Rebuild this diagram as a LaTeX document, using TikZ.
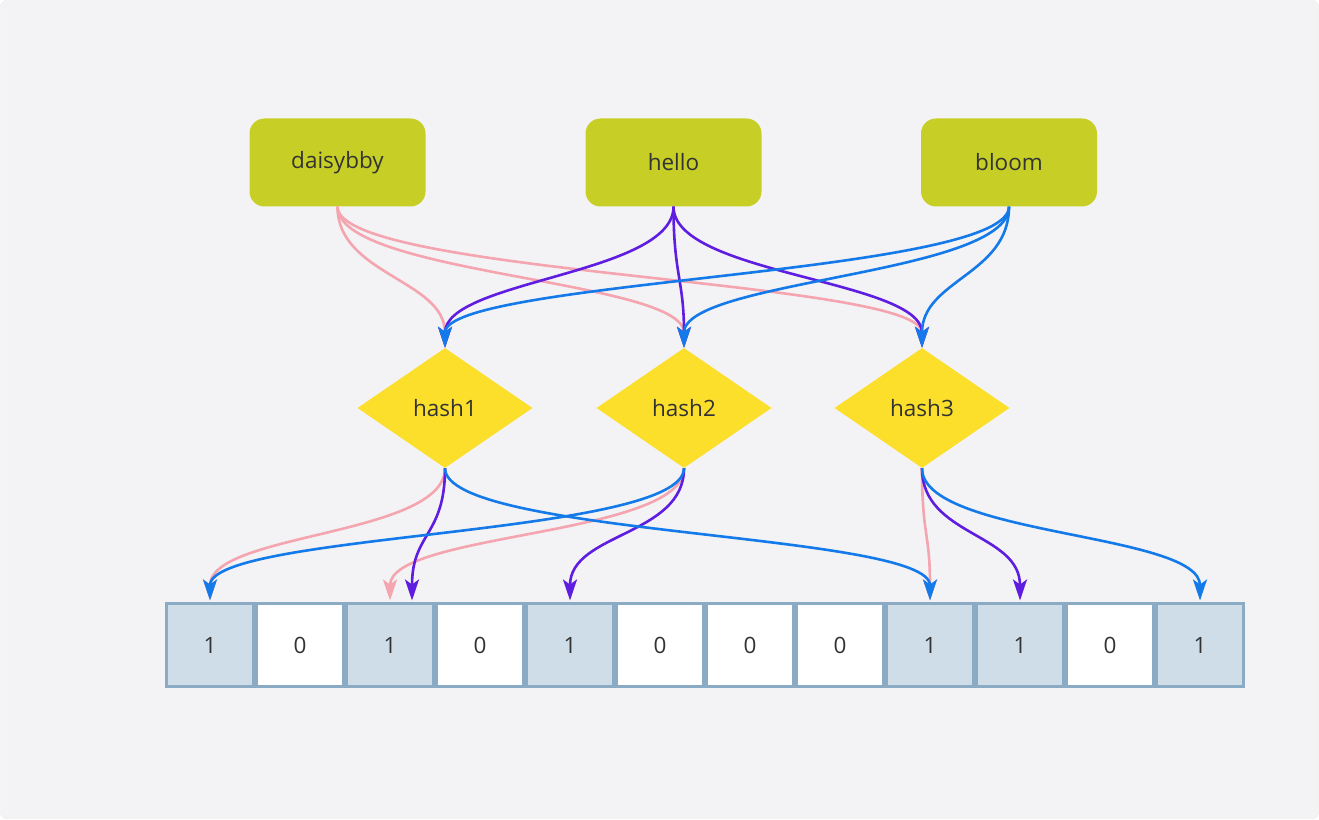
\documentclass[tikz,border=0pt]{standalone}
\usepackage{fontspec}
\setmainfont{Open Sans}
\usetikzlibrary{shapes.geometric,arrows.meta}
\definecolor{bgc}{HTML}{F3F3F5}
\definecolor{wordc}{HTML}{C7CF26}
\definecolor{hashc}{HTML}{FCDF2A}
\definecolor{pinkc}{HTML}{F4A5AF}
\definecolor{purplec}{HTML}{5E1DE0}
\definecolor{bluec}{HTML}{1479E9}
\definecolor{cellc}{HTML}{8BAAC4}
\definecolor{setc}{HTML}{CFDDE8}
\definecolor{textc}{HTML}{333333}
\begin{document}
\begin{tikzpicture}[x=1pt, y=1pt,
    every node/.style={text=textc, font=\fontsize{22.5}{26}\selectfont},
    word/.style={rectangle, rounded corners=15pt, fill=wordc, minimum width=176pt, minimum height=88pt, inner sep=0pt},
    hash/.style={diamond, fill=hashc, minimum width=175pt, minimum height=120pt, inner sep=0pt},
    cell/.style={rectangle, draw=cellc, line width=3pt, fill=white, minimum width=87pt, minimum height=83pt, inner sep=0pt},
    one/.style={cell, fill=setc},
    edge/.style={line width=2.6pt, -{Stealth[length=21pt, width=14pt, inset=5pt]}, out=-90, in=90, out distance=68pt, in distance=68pt}]
    % background
    \useasboundingbox (0,0) rectangle (1319,819);
    \fill[white] (0,0) rectangle (1319,819);
    \draw[fill=bgc, draw=black!8, rounded corners=6pt] (0.5,0.5) rectangle (1318.5,818.5);
    % words
    \node[word] (dai) at (337.5,656.5) {daisybby};
    \node[word] (hel) at (673.5,656.5) {hello};
    \node[word] (blo) at (1009,656.5) {bloom};
    % hash functions
    \node[hash] (h1) at (445,411) {hash1};
    \node[hash] (h2) at (684,411) {hash2};
    \node[hash] (h3) at (922,411) {hash3};
    % bit array
    \foreach \i/\b in {0/1, 1/0, 2/1, 3/0, 4/1, 5/0, 6/0, 7/0, 8/1, 9/1, 10/0, 11/1} {
        \ifnum\b=1
            \node[one] (c\i) at (210+90*\i,174) {\b};
        \else
            \node[cell] (c\i) at (210+90*\i,174) {\b};
        \fi
    }
    \coordinate (c2r) at ([xshift=22pt]c2.north);
    % daisybby
    \draw[edge, pinkc] (dai.south) to (h1.north);
    \draw[edge, pinkc] (dai.south) to (h2.north);
    \draw[edge, pinkc] (dai.south) to (h3.north);
    \draw[edge, pinkc] (h1.south) to ([yshift=1.5pt]c0.north);
    \draw[edge, pinkc] (h2.south) to ([yshift=1.5pt]c2.north);
    \draw[edge, pinkc] (h3.south) to ([yshift=1.5pt]c8.north);
    % hello
    \draw[edge, purplec] (hel.south) to (h1.north);
    \draw[edge, purplec] (hel.south) to (h2.north);
    \draw[edge, purplec] (hel.south) to (h3.north);
    \draw[edge, purplec] (h1.south) to ([yshift=1.5pt]c2r);
    \draw[edge, purplec] (h2.south) to ([yshift=1.5pt]c4.north);
    \draw[edge, purplec] (h3.south) to ([yshift=1.5pt]c9.north);
    % bloom
    \draw[edge, bluec] (blo.south) to (h1.north);
    \draw[edge, bluec] (blo.south) to (h2.north);
    \draw[edge, bluec] (blo.south) to (h3.north);
    \draw[edge, bluec] (h1.south) to ([yshift=1.5pt]c8.north);
    \draw[edge, bluec] (h2.south) to ([yshift=1.5pt]c0.north);
    \draw[edge, bluec] (h3.south) to ([yshift=1.5pt]c11.north);
\end{tikzpicture}
\end{document}
